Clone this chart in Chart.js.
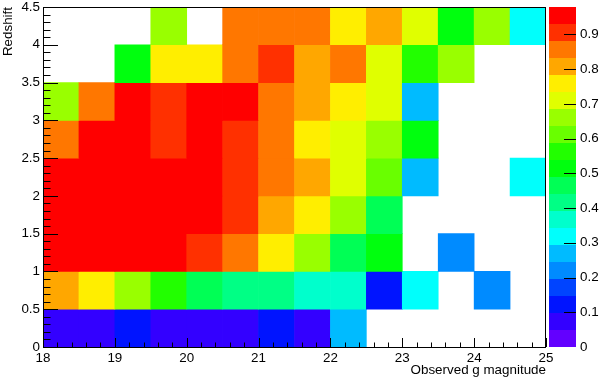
<!DOCTYPE html>
<html>
<head>
<meta charset="utf-8">
<script src="https://cdn.jsdelivr.net/npm/chart.js@4/dist/chart.umd.min.js"></script>
<style>html,body{margin:0;padding:0;background:#fff}canvas{display:block}</style>
</head>
<body>
<canvas id="c" width="600" height="379"></canvas>
<script>
// Bin lower edges (observed g magnitude), bin width 0.5
const magLow = [18, 18.5, 19, 19.5, 20, 20.5, 21, 21.5, 22, 22.5, 23, 23.5, 24, 24.5];
const magBinWidth = 0.5;
// Redshift bin lower edges, bin width 0.5
const zLow = [0, 0.5, 1, 1.5, 2, 2.5, 3, 3.5, 4];
const zBinWidth = 0.5;

// Efficiency per redshift bin (one value per magnitude bin, null = empty)
const eff_z0_0p5   = [0.08, 0.07, 0.11, 0.08, 0.07, 0.08, 0.12, 0.07, 0.27, null, null, null, null, null];
const eff_z0p5_1   = [0.81, 0.76, 0.66, 0.56, 0.47, 0.42, 0.41, 0.37, 0.36, 0.12, 0.32, null, 0.22, null];
const eff_z1_1p5   = [0.95, 0.96, 0.95, 0.94, 0.91, 0.86, 0.75, 0.66, 0.46, 0.51, null, 0.22, null, null];
const eff_z1p5_2   = [0.96, 0.95, 0.97, 0.95, 0.94, 0.92, 0.80, 0.77, 0.67, 0.47, null, null, null, null];
const eff_z2_2p5   = [0.97, 0.96, 0.96, 0.95, 0.95, 0.90, 0.85, 0.81, 0.71, 0.61, 0.27, null, null, 0.33];
const eff_z2p5_3   = [0.86, 0.96, 0.95, 0.92, 0.95, 0.91, 0.85, 0.76, 0.72, 0.65, 0.52, null, null, null];
const eff_z3_3p5   = [0.66, 0.87, 0.979, 0.90, 0.96, 0.95, 0.86, 0.82, 0.76, 0.71, 0.26, null, null, null];
const eff_z3p5_4   = [null, null, 0.51, 0.77, 0.75, 0.86, 0.92, 0.81, 0.85, 0.71, 0.57, 0.66, null, null];
const eff_z4_4p5   = [null, null, null, 0.65, null, 0.85, 0.86, 0.85, 0.76, 0.81, 0.72, 0.52, 0.66, 0.31];

const effRows = [eff_z0_0p5, eff_z0p5_1, eff_z1_1p5, eff_z1p5_2, eff_z2_2p5, eff_z2p5_3, eff_z3_3p5, eff_z3p5_4, eff_z4_4p5];

// Colour scale range and palette (20 contour levels, violet -> red)
const zMax = 0.979;
const nLevels = 20;
const paletteColors = ['#6300ff','#3300ff','#0014ff','#0044ff','#008bff','#00bbff','#00fffc','#00ffcc','#00ff85','#00ff55',
                       '#00ff0e','#22ff00','#69ff00','#99ff00','#e0ff00','#ffee00','#ffa700','#ff7700','#ff3000','#ff0000'];

function levelColor(v) {
  let k = Math.floor(v / zMax * nLevels);
  if (k > nLevels - 1) k = nLevels - 1;
  if (k < 0) k = 0;
  return paletteColors[k];
}

const cells = [];
zLow.forEach((z, j) => {
  effRows[j].forEach((v, i) => {
    if (v !== null) cells.push({ x: magLow[i] + magBinWidth / 2, y: [z, z + zBinWidth], v: v });
  });
});

Chart.defaults.font.family = "'Liberation Sans', Arial, Helvetica, sans-serif";
Chart.defaults.font.size = 13.4;
Chart.defaults.color = '#000';

const fmt = (v) => String(parseFloat(Number(v).toFixed(3)));

const rootFrame = {
  id: 'rootFrame',
  afterDatasetsDraw(chart) {
    const { ctx, chartArea: a, scales } = chart;
    const x = scales.x, y = scales.y, y2 = scales.y2;
    const L = Math.round(a.left), R = Math.round(a.right), T = Math.round(a.top), B = Math.round(a.bottom);
    ctx.save();
    // palette strip
    const pL = y2.left + 3, pW = 27;
    for (let k = 0; k < nLevels; k++) {
      const y0 = y2.getPixelForValue(k * zMax / nLevels);
      const y1 = y2.getPixelForValue((k + 1) * zMax / nLevels);
      ctx.fillStyle = paletteColors[k];
      ctx.fillRect(pL, y1, pW, y0 - y1);
    }
    ctx.strokeStyle = '#000';
    ctx.lineWidth = 1;
    ctx.beginPath();
    // y ticks (inside)
    for (let i = 0; i <= 45; i++) {
      const py = Math.round(y.getPixelForValue(i / 10)) + 0.5;
      const len = (i % 5 === 0) ? 15 : 7.5;
      ctx.moveTo(L, py); ctx.lineTo(L + len, py);
    }
    // x ticks (inside)
    for (let i = 0; i <= 35; i++) {
      const px = Math.round(x.getPixelForValue(18 + i * 0.2)) + 0.5;
      const len = (i % 5 === 0) ? 9 : 4.5;
      ctx.moveTo(px, B); ctx.lineTo(px, B - len);
    }
    // palette ticks
    for (let i = 1; i <= 9; i++) {
      const py = Math.round(y2.getPixelForValue(i / 10)) + 0.5;
      ctx.moveTo(pL + pW - 12, py); ctx.lineTo(pL + pW, py);
    }
    ctx.stroke();
    // frame
    ctx.strokeRect(L + 0.5, T + 0.5, R - L - 1, B - T);
    ctx.restore();
  }
};

const noVPad = (s) => { s.paddingTop = 0; s.paddingBottom = 0; };

new Chart(document.getElementById('c'), {
  type: 'bar',
  data: {
    datasets: [{
      data: cells,
      backgroundColor: (c) => (c.raw && c.raw.v !== undefined) ? levelColor(c.raw.v) : '#ffffff',
      borderWidth: 0,
      barPercentage: 1,
      categoryPercentage: 1,
      grouped: false
    }]
  },
  options: {
    responsive: false,
    animation: false,
    devicePixelRatio: 1,
    layout: { padding: { top: 7, right: 0, bottom: 0, left: 0 } },
    plugins: { legend: { display: false }, tooltip: { enabled: false } },
    scales: {
      x: {
        type: 'linear', min: 18, max: 25, offset: false,
        grid: { display: false, drawTicks: false }, border: { display: false },
        ticks: { stepSize: 1, padding: 3, maxRotation: 0, autoSkip: false, callback: fmt },
        title: { display: true, text: 'Observed g magnitude', align: 'end', padding: { top: 0, bottom: 1 } },
        afterFit: (s) => { s.height = 32; s.paddingLeft = 0; s.paddingRight = 0; }
      },
      y: {
        type: 'linear', min: 0, max: 4.5,
        grid: { display: false, drawTicks: false }, border: { display: false },
        ticks: { stepSize: 0.5, padding: 3, autoSkip: false, callback: fmt },
        title: { display: true, text: 'Redshift', align: 'end', padding: { top: 0, bottom: 0 } },
        afterFit: (s) => { s.width = 43; noVPad(s); }
      },
      y2: {
        type: 'linear', position: 'right', min: 0, max: zMax,
        grid: { display: false, drawTicks: false }, border: { display: false },
        ticks: { stepSize: 0.1, padding: 34, autoSkip: false, callback: fmt },
        afterBuildTicks: (s) => { s.ticks = s.ticks.filter(t => Math.abs(t.value * 10 - Math.round(t.value * 10)) < 1e-6); },
        afterFit: (s) => { s.width = 54; noVPad(s); }
      }
    }
  },
  plugins: [rootFrame]
});
</script>
</body>
</html>
